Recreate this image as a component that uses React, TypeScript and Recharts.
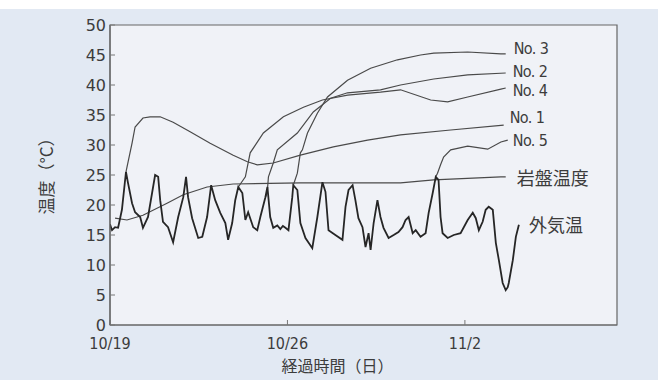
import React from 'react';
import { LineChart, Line, XAxis, YAxis, ReferenceArea } from 'recharts';

// elapsed days from 10/19
const AIR_DAYS = [0, 0.08, 0.2, 0.32, 0.47, 0.63, 0.71, 0.87, 0.99, 1.19, 1.3, 1.5, 1.66, 1.78, 1.9, 1.98, 2.09, 2.29, 2.49, 2.69, 2.89, 3.0, 3.08, 3.24, 3.48, 3.64, 3.83, 3.99, 4.15, 4.35, 4.55, 4.66, 4.82, 4.94, 5.06, 5.22, 5.34, 5.45, 5.65, 5.81, 5.93, 6.13, 6.21, 6.32, 6.44, 6.6, 6.72, 6.82, 6.92, 7.04, 7.19, 7.23, 7.39, 7.51, 7.71, 7.98, 8.18, 8.38, 8.5, 8.62, 8.89, 9.17, 9.29, 9.41, 9.57, 9.68, 9.8, 9.96, 10.08, 10.2, 10.28, 10.4, 10.55, 10.67, 10.79, 10.99, 11.19, 11.38, 11.54, 11.66, 11.78, 11.94, 12.06, 12.25, 12.45, 12.57, 12.73, 12.85, 12.96, 13.04, 13.12, 13.32, 13.56, 13.83, 14.11, 14.31, 14.43, 14.55, 14.7, 14.82, 14.94, 15.1, 15.22, 15.34, 15.49, 15.61, 15.69, 15.73, 15.89, 16.01, 16.13];
const AIR_TEMP = [16.8, 15.8, 16.3, 16.2, 19.2, 25.5, 23.7, 20.3, 18.8, 18.0, 16.2, 18.0, 22.0, 25.0, 24.7, 20.8, 17.2, 16.3, 13.8, 18.0, 21.3, 24.7, 21.3, 17.8, 14.5, 14.7, 18.0, 23.3, 20.8, 18.7, 17.0, 14.2, 17.0, 20.8, 23.0, 22.0, 17.5, 18.8, 16.3, 15.8, 18.0, 21.3, 23.0, 18.0, 16.2, 16.6, 16.0, 16.5, 16.2, 15.8, 21.3, 23.3, 22.5, 17.0, 14.5, 12.8, 18.0, 23.8, 22.2, 15.8, 15.0, 14.2, 19.7, 22.5, 23.3, 20.8, 17.8, 16.3, 13.0, 15.3, 12.5, 17.0, 20.8, 18.0, 16.2, 14.5, 15.0, 15.5, 16.3, 17.5, 18.0, 15.3, 15.8, 14.7, 15.3, 18.7, 22.0, 24.7, 24.2, 18.0, 15.3, 14.5, 15.0, 15.3, 17.5, 18.7, 17.8, 15.8, 17.2, 19.2, 19.7, 19.2, 13.7, 10.8, 7.0, 5.8, 6.3, 7.0, 10.8, 14.7, 16.7];

const NO1_DAYS = [0.63, 0.67, 0.87, 0.99, 1.3, 1.58, 1.98, 2.49, 3.16, 3.95, 4.86, 5.42, 5.81, 6.44, 7.51, 8.81, 10.16, 11.46, 13.44, 15.53];
const NO1_TEMP = [25.5, 26.3, 30.3, 33.0, 34.5, 34.7, 34.7, 33.8, 32.2, 30.3, 28.3, 27.2, 26.7, 27.0, 28.3, 29.7, 30.8, 31.7, 32.5, 33.3];

const NO2_DAYS = [6.13, 6.2, 6.25, 6.44, 6.6, 7.39, 8.02, 8.7, 9.37, 10.67, 11.46, 12.77, 14.11, 15.61];
const NO2_TEMP = [21.3, 22.0, 24.7, 27.0, 29.2, 32.0, 35.5, 37.8, 38.7, 39.2, 40.0, 41.0, 41.7, 42.0];

const NO3_DAYS = [7.23, 7.39, 7.51, 7.59, 7.79, 8.18, 8.58, 9.37, 10.28, 11.34, 12.25, 12.77, 14.11, 15.42, 15.61];
const NO3_TEMP = [23.3, 25.3, 28.7, 29.2, 32.0, 35.3, 38.0, 40.8, 42.8, 44.2, 45.0, 45.3, 45.5, 45.2, 45.2];

const NO4_DAYS = [5.06, 5.34, 5.53, 6.05, 6.84, 7.63, 8.38, 9.37, 10.67, 11.46, 12.65, 13.32, 14.11, 15.42, 15.61];
const NO4_TEMP = [23.0, 24.7, 28.7, 32.0, 34.7, 36.3, 37.5, 38.3, 38.8, 39.2, 37.5, 37.2, 38.0, 39.3, 39.5];

const NO5_DAYS = [12.85, 12.92, 13.04, 13.16, 13.44, 14.11, 14.9, 15.42, 15.69];
const NO5_TEMP = [24.7, 25.3, 26.7, 28.0, 29.2, 29.8, 29.3, 30.5, 30.8];

const ROCK_DAYS = [0.2, 0.67, 1.3, 2.25, 2.89, 3.83, 4.86, 7.51, 11.46, 12.77, 15.42, 15.61];
const ROCK_TEMP = [17.8, 17.5, 18.3, 20.3, 21.7, 23.0, 23.5, 23.7, 23.7, 24.2, 24.7, 24.7];

const X_TICKS = [0, 7, 14];
const X_TICK_LABELS = ['10/19', '10/26', '11/2'];
const Y_TICKS = [0, 5, 10, 15, 20, 25, 30, 35, 40, 45, 50];

const SERIES_NAMES = ['No. 1', 'No. 2', 'No. 3', 'No. 4', 'No. 5', '岩盤温度', '外気温'];

const zip = (days: number[], vals: number[]) => days.map((d, i) => ({ d, v: vals[i] }));

const LINE = '#4a4a4a';
const TEXT = '#3c3c3c';
const LATIN = "'DejaVu Sans Condensed', 'DejaVu Sans', sans-serif";
const CJK = "'Noto Sans CJK JP', sans-serif";

const endLabel = (name: string, n: number, dx: number, dy: number, cjk: boolean) => (props: any) => {
  if (props.index !== n - 1) return null;
  return (
    <text
      x={props.x + dx}
      y={props.y + dy}
      dominantBaseline="central"
      fill={TEXT}
      fontSize={cjk ? 18 : 16}
      fontFamily={cjk ? CJK : LATIN}
      letterSpacing={cjk ? 0 : -0.6}
    >
      {name}
    </text>
  );
};

export default function App() {
  const series = [
    { data: zip(NO3_DAYS, NO3_TEMP), name: SERIES_NAMES[2], dx: 8, dy: -5.5, cjk: false, w: 1.2, c: LINE },
    { data: zip(NO2_DAYS, NO2_TEMP), name: SERIES_NAMES[1], dx: 7, dy: -1.5, cjk: false, w: 1.2, c: LINE },
    { data: zip(NO4_DAYS, NO4_TEMP), name: SERIES_NAMES[3], dx: 7, dy: 2.5, cjk: false, w: 1.2, c: LINE },
    { data: zip(NO1_DAYS, NO1_TEMP), name: SERIES_NAMES[0], dx: 6, dy: -7.5, cjk: false, w: 1.2, c: LINE },
    { data: zip(NO5_DAYS, NO5_TEMP), name: SERIES_NAMES[4], dx: 5, dy: 0, cjk: false, w: 1.2, c: LINE },
    { data: zip(ROCK_DAYS, ROCK_TEMP), name: SERIES_NAMES[5], dx: 11, dy: 0, cjk: true, w: 1.2, c: LINE },
    { data: zip(AIR_DAYS, AIR_TEMP), name: SERIES_NAMES[6], dx: 10, dy: -1, cjk: true, w: 1.8, c: '#262626' },
  ];
  return (
    <div style={{ position: 'absolute', left: 0, top: 0, width: 658, height: 380, background: '#e2e9f3' }}>
      <div style={{ position: 'absolute', left: 0, top: 0, width: 658, height: 9, background: '#ffffff' }} />
      <div style={{ position: 'absolute', left: 0, top: 0 }}>
        <LineChart width={658} height={380} margin={{ top: 25, right: 41, bottom: 25, left: 0 }}>
          <XAxis
            type="number"
            dataKey="d"
            domain={[0, 20]}
            ticks={X_TICKS}
            tickFormatter={(v: number) => X_TICK_LABELS[X_TICKS.indexOf(v)]}
            allowDataOverflow
            height={30}
            tickSize={-5}
            tickMargin={18}
            axisLine={{ stroke: '#666', strokeWidth: 1.2 }}
            tickLine={{ stroke: '#777' }}
            tick={{ fill: TEXT, fontSize: 16, fontFamily: LATIN }}
            label={(p: any) => (
              <text
                x={p.viewBox.x + p.viewBox.width / 2 - 26}
                y={365}
                textAnchor="middle"
                dominantBaseline="central"
                fill={TEXT}
                fontSize={16}
                fontFamily={CJK}
              >
                経過時間（日）
              </text>
            )}
          />
          <YAxis
            type="number"
            domain={[0, 50]}
            ticks={Y_TICKS}
            width={110}
            tickSize={-5}
            tickMargin={9}
            axisLine={{ stroke: '#666', strokeWidth: 1.2 }}
            tickLine={{ stroke: '#777' }}
            tick={{ fill: TEXT, fontSize: 16, fontFamily: "'DejaVu Sans', sans-serif" }}
            label={(p: any) => (
              <text
                x={45}
                y={p.viewBox.y + 147}
                textAnchor="middle"
                dominantBaseline="central"
                fill={TEXT}
                fontSize={17}
                fontFamily={CJK}
                transform={`rotate(-90, 45, ${p.viewBox.y + 147})`}
              >
                温度（°C）
              </text>
            )}
          />
          <ReferenceArea x1={0} x2={20} y1={0} y2={50} fill="#f0f2f7" fillOpacity={1} stroke="#666" strokeWidth={1.2} />
          {series.map((s) => (
            <Line
              key={s.name}
              data={s.data}
              dataKey="v"
              type="linear"
              stroke={s.c}
              strokeWidth={s.w}
              dot={false}
              activeDot={false}
              isAnimationActive={false}
              label={endLabel(s.name, s.data.length, s.dx, s.dy, s.cjk)}
            />
          ))}
        </LineChart>
      </div>
    </div>
  );
}
